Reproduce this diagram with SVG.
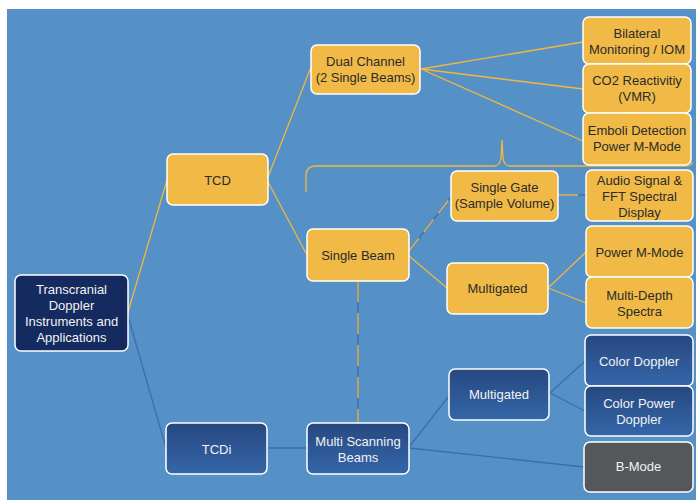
<svg xmlns="http://www.w3.org/2000/svg" width="696" height="500" viewBox="0 0 696 500">
<defs>
<linearGradient id="bg" x1="0" y1="0" x2="0" y2="1"><stop offset="0" stop-color="#26487f"/><stop offset="1" stop-color="#3566aa"/></linearGradient>
<style>
.y rect{fill:#f1ba47;stroke:#ffffff;stroke-width:1.5}
.b rect{fill:url(#bg);stroke:#ffffff;stroke-width:1.5}
.n rect{fill:#152a5e;stroke:#ffffff;stroke-width:1.5}
.g rect{fill:#55585b;stroke:#ffffff;stroke-width:1.5}
text{font-family:"Liberation Sans",Arial,sans-serif;font-size:13px;text-anchor:middle}
.y text{fill:#2b2b2b}
.b text,.n text,.g text{fill:#f2f2f2}
.cy{stroke:#f1b83e;stroke-width:1.3;fill:none}
.cb{stroke:#3b6db2;stroke-width:1.3;fill:none}
</style>
</defs>
<rect x="7" y="9" width="689" height="491" fill="#5590c7"/>
<g id="connectors">
<line class="cy" x1="128" y1="312" x2="167" y2="180"/>
<line class="cb" x1="128" y1="316" x2="166" y2="448"/>
<line class="cy" x1="268" y1="177" x2="311" y2="67"/>
<line class="cy" x1="268" y1="182" x2="307" y2="255"/>
<line class="cy" x1="421" y1="69" x2="583" y2="42"/>
<line class="cy" x1="421" y1="69" x2="583" y2="89"/>
<line class="cy" x1="421" y1="69" x2="583" y2="141"/>
<path class="cy" d="M306 192 L306 176 Q306 166 316 166 L494 166 Q500 166 501 158 L502 140 L503 158 Q504 166 510 166 L686 166 Q692 166 692 162"/>
<line class="cb" x1="409" y1="251" x2="451" y2="197"/>
<line class="cy" x1="409" y1="251" x2="451" y2="197" stroke-dasharray="16,8"/>
<line class="cy" x1="409" y1="256" x2="447" y2="288"/>
<line class="cy" x1="558" y1="195" x2="578" y2="195"/>
<line class="cb" x1="578" y1="195" x2="586" y2="195"/>
<line class="cy" x1="548" y1="288" x2="586" y2="252"/>
<line class="cy" x1="548" y1="288" x2="586" y2="303"/>
<line class="cb" x1="358" y1="281" x2="358" y2="423"/>
<line class="cy" x1="358" y1="281" x2="358" y2="423" stroke-dasharray="21,11"/>
<line class="cb" x1="267" y1="448" x2="307" y2="448"/>
<line class="cb" x1="409" y1="447" x2="449" y2="396"/>
<line class="cb" x1="409" y1="448" x2="584" y2="467"/>
<line class="cb" x1="550" y1="393" x2="585" y2="361"/>
<line class="cb" x1="550" y1="393" x2="585" y2="411"/>
</g>
<g id="root" class="n"><rect x="15" y="275" width="113" height="76" rx="6"/><text x="71.5" y="294">Transcranial</text><text x="71.5" y="310">Doppler</text><text x="71.5" y="326">Instruments and</text><text x="71.5" y="342">Applications</text></g>
<g id="tcd" class="y"><rect x="167" y="154" width="101" height="51" rx="6"/><text x="217.5" y="184.5">TCD</text></g>
<g id="dual" class="y"><rect x="311" y="45" width="109" height="49" rx="6"/><text x="365.5" y="66">Dual Channel</text><text x="365.5" y="81.5">(2 Single Beams)</text></g>
<g id="bilateral" class="y"><rect x="583" y="17" width="108" height="47" rx="6"/><text x="637" y="38">Bilateral</text><text x="637" y="54">Monitoring / IOM</text></g>
<g id="co2" class="y"><rect x="583" y="64" width="108" height="49" rx="6"/><text x="637" y="85">CO2 Reactivitiy</text><text x="637" y="101">(VMR)</text></g>
<g id="emboli" class="y"><rect x="583" y="113" width="108" height="52" rx="6"/><text x="637" y="135">Emboli Detection</text><text x="637" y="151">Power M-Mode</text></g>
<g id="single-beam" class="y"><rect x="307" y="229" width="102" height="52" rx="6"/><text x="358" y="259.5">Single Beam</text></g>
<g id="single-gate" class="y"><rect x="451" y="171" width="107" height="50" rx="6"/><text x="504.5" y="191.5">Single Gate</text><text x="504.5" y="207.5">(Sample Volume)</text></g>
<g id="audio" class="y"><rect x="586" y="170" width="107" height="51" rx="6"/><text x="639.5" y="184.5">Audio Signal &amp;</text><text x="639.5" y="200.5">FFT Spectral</text><text x="639.5" y="216.5">Display</text></g>
<g id="multigated-y" class="y"><rect x="447" y="263" width="101" height="51" rx="6"/><text x="497.5" y="292.5">Multigated</text></g>
<g id="power-m" class="y"><rect x="586" y="226" width="107" height="51" rx="6"/><text x="639.5" y="256.5">Power M-Mode</text></g>
<g id="multi-depth" class="y"><rect x="586" y="277" width="107" height="51" rx="6"/><text x="639.5" y="299.5">Multi-Depth</text><text x="639.5" y="315.5">Spectra</text></g>
<g id="tcdi" class="b"><rect x="166" y="423" width="101" height="51" rx="6"/><text x="216.5" y="453.5">TCDi</text></g>
<g id="multi-scan" class="b"><rect x="307" y="423" width="102" height="51" rx="6"/><text x="358" y="445.5">Multi Scanning</text><text x="358" y="461.5">Beams</text></g>
<g id="multigated-b" class="b"><rect x="449" y="369" width="100" height="51" rx="6"/><text x="499" y="398.5">Multigated</text></g>
<g id="color-doppler" class="b"><rect x="585" y="335" width="108" height="51" rx="6"/><text x="639" y="365.5">Color Doppler</text></g>
<g id="color-power" class="b"><rect x="585" y="386" width="108" height="50" rx="6"/><text x="639" y="407.5">Color Power</text><text x="639" y="423.5">Doppler</text></g>
<g id="b-mode" class="g"><rect x="584" y="442" width="109" height="50" rx="6"/><text x="638.5" y="471">B-Mode</text></g>
</svg>
